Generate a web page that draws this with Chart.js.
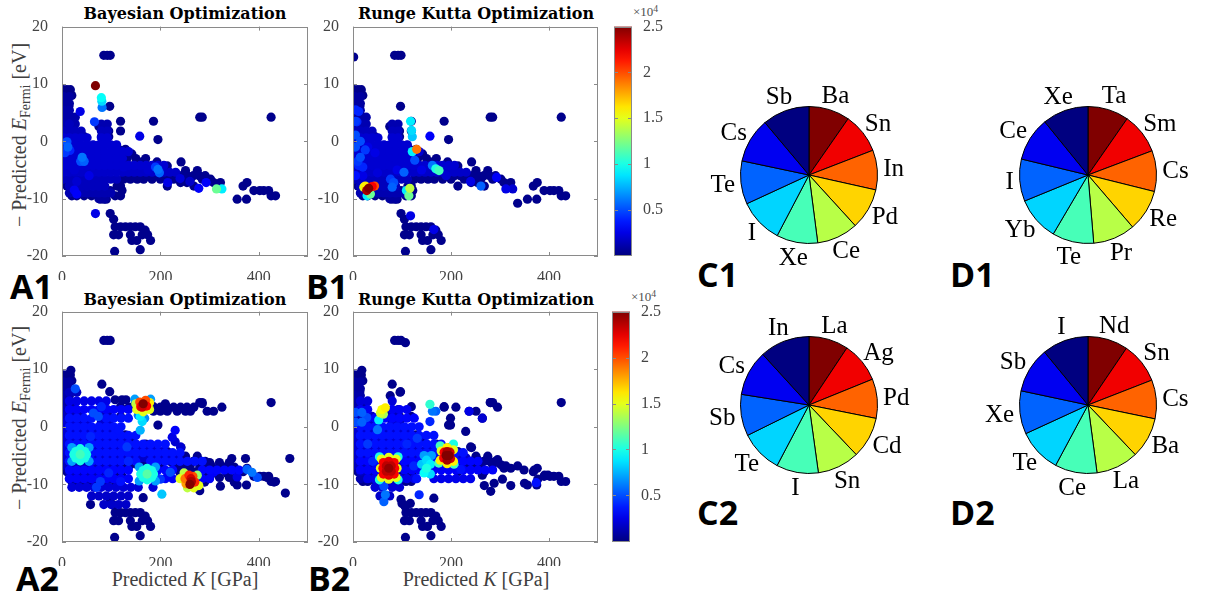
<!DOCTYPE html>
<html>
<head>
<meta charset="utf-8">
<script src="https://cdn.jsdelivr.net/npm/chart.js@4.4.1/dist/chart.umd.min.js"></script>
<style>
  body { margin: 0; background: #fff; width: 1206px; height: 595px; position: relative; overflow: hidden; }
  canvas { position: absolute; }
  .t { position: absolute; white-space: nowrap; line-height: 1; }
  .title { font: bold 16px "DejaVu Serif"; color: #000; transform: translateX(-50%); }
  .xl { font: 20px "Liberation Serif"; color: #404040; transform: translateX(-50%); }
  .yl { font: 20px "Liberation Serif"; color: #404040; transform: translate(-50%, -50%) rotate(-90deg); }
  .tag { font: bold 34px "Open Sans"; color: #000; }
  .exp { font: 13px "Liberation Serif"; color: #505050; }
  sub { font-size: 70%; vertical-align: -0.3em; line-height: 0; }
  sup { font-size: 75%; vertical-align: 0.45em; line-height: 0; }
</style>
</head>
<body>
<div class="t title" style="left:185px;top:4px">Bayesian Optimization</div>
<div class="t title" style="left:476px;top:4px">Runge Kutta Optimization</div>
<div class="t title" style="left:185px;top:290px">Bayesian Optimization</div>
<div class="t title" style="left:476px;top:290px">Runge Kutta Optimization</div>
<div class="t yl" style="left:19px;top:135px">− Predicted <i>E</i><sub>Fermi</sub> [eV]</div>
<div class="t yl" style="left:19px;top:418px">− Predicted <i>E</i><sub>Fermi</sub> [eV]</div>
<div class="t xl" style="left:185px;top:568px">Predicted <i>K</i> [GPa]</div>
<div class="t xl" style="left:476px;top:568px">Predicted <i>K</i> [GPa]</div>
<div class="t exp" style="left:633px;top:4px">×10<sup>4</sup></div>
<div class="t exp" style="left:631px;top:289px">×10<sup>4</sup></div>
<div class="t tag" style="left:10px;top:263px">A1</div>
<div class="t tag" style="left:306px;top:263px">B1</div>
<div class="t tag" style="left:16px;top:555px">A2</div>
<div class="t tag" style="left:308px;top:555px">B2</div>
<div class="t tag" style="left:697px;top:251px">C1</div>
<div class="t tag" style="left:950px;top:251px">D1</div>
<div class="t tag" style="left:697px;top:489px">C2</div>
<div class="t tag" style="left:950px;top:489px">D2</div>

<script>
// ---- data ----
const kMin = 0, kMax = 500, kStep = 200;
const eMin = -20, eMax = 20, eStep = 10;
const colorMax = 25000, colorStep = 5000;
const skeletonValue = 300;

// navy points shared by all panels: [E, [K, ...]]
const skeleton1 = [
  [15.0, [85, 92, 98]],
  [9.0, [2, 10, 17]],
  [8.0, [1, 20]],
  [7.0, [1, 7]],
  [6.1, [1, 14, 97]],
  [5.2, [1, 10]],
  [4.2, [20, 280, 285, 425]],
  [3.5, [3, 119, 186]],
  [2.6, [1, 17, 75, 85]],
  [1.8, [2, 15, 95, 119]],
  [0.8, [2, 15, 30, 45, 80, 95]],
  [0.3, [195]],
  [-0.7, [5, 20, 35, 50, 65, 82, 100, 110]],
  [-1.4, [115, 129]],
  [-2.2, [3, 18, 35, 50, 65, 80, 95, 110, 125, 142]],
  [-3.0, [132, 150, 170]],
  [-3.6, [3, 18, 35, 50, 65, 80, 95, 119, 163, 193, 242]],
  [-4.3, [108, 142, 180, 214]],
  [-5.1, [2, 15, 30, 45, 60, 75, 90, 125, 203, 251, 275]],
  [-5.8, [132, 160, 220]],
  [-6.6, [2, 15, 25, 40, 55, 70, 85, 125, 139, 153, 166, 183, 200, 227, 237, 261, 285, 302]],
  [-7.2, [241, 254, 308, 322, 376]],
  [-7.8, [10, 20, 35, 50, 65, 80, 112, 119, 214, 268, 368]],
  [-8.6, [98, 122, 390, 402, 410, 420]],
  [-9.5, [20, 30, 45, 60, 80, 108, 119, 425, 434]],
  [-10.1, [78, 85, 90, 356, 375]],
  [-12.6, [98]],
  [-13.6, [105]],
  [-14.9, [108, 119, 129, 139, 149, 159]],
  [-15.5, [169]],
  [-16.3, [105, 115, 139, 163, 174]],
  [-17.3, [142, 152, 180]],
  [-18.9, [159]],
  [-19.2, [107]]
];

// dense mass of the first row: [E, value, [K, ...]]
const body1 = [
  [7.8, 800, [3, 15]],
  [6.6, 800, [3, 15]],
  [5.4, 1000, [3, 15]],
  [4.2, 1000, [3, 15, 27]],
  [3.0, 1200, [3, 15, 27, 80, 92]],
  [1.8, 1500, [3, 15, 27, 39, 80, 92]],
  [0.6, 2000, [3, 15, 27, 39, 51, 80, 92]],
  [-0.6, 2000, [3, 15, 27, 39, 51, 63, 75, 87, 99, 111]],
  [-1.8, 2000, [3, 15, 27, 39, 51, 63, 75, 87, 99, 111, 123, 135]],
  [-3.0, 2000, [3, 15, 27, 39, 51, 63, 75, 87, 99, 111, 123]],
  [-4.2, 2000, [3, 15, 27, 39, 51, 63, 75, 87, 99, 111, 123, 135, 147, 159, 171, 183, 195, 207]],
  [-5.4, 1800, [3, 15, 27, 39, 51, 63, 75, 87, 99, 111, 123, 135, 147, 159, 171, 183, 195, 207, 219, 231]],
  [-6.0, 400, [135, 147, 159, 171, 183, 195, 207, 219, 231, 243, 255, 267, 279, 291]],
  [-6.6, 1500, [3, 15, 27, 39, 51, 63, 75, 87, 99, 111]],
  [-7.8, 1500, [15, 27, 39, 51, 63, 75, 87]],
  [-9.0, 1200, [15, 27, 39, 51, 63, 75, 87, 99]],
  [-10.0, 800, [75, 87]]
];

// coloured points: [K, E, value]
const hotA1 = [
  [37, 5.2, 2500], [66, 3.4, 4500], [81.5, 5.9, 6000], [81, 7.0, 8500], [80, 7.6, 9500], [68, 9.7, 25000],
  [158, 0.9, 2500], [10, -0.1, 5000], [12, -1.0, 5500], [6, -2, 4500], [16, -1.6, 4000],
  [38, -3.5, 5000], [45, -3.5, 5500], [41, -2.8, 6000], [25, -8.5, 2800], [30, -9.2, 3000],
  [190, -4.5, 4500], [198, -5.5, 5500], [195, -4.9, 6000], [278, -8.2, 3000], [293, -7.2, 3000],
  [325, -8.3, 9000], [314, -8.3, 12000], [68, -12.6, 2500], [125, -4.5, 2000], [215, -7.2, 2500],
  [25, -5, 2000], [55, -6, 2500], [60, -4, 2000], [70, -1, 1500], [15, 3, 1500], [30, -7, 2000],
  [110, -5, 1800], [175, -5, 2000], [260, -7, 1800], [240, -6.5, 2200]
];

const hotB1 = [
  [1.4, 14.7, 300], [336, -10.8, 300],
  [117.5, 3.5, 9000], [119.5, 1.9, 8500], [121, 0.8, 8000], [121, -1.8, 9000], [130, -1.4, 19000],
  [126, -3.3, 5000], [157, 0.9, 3000], [162, -4.2, 6000], [169, -4.8, 10000], [175.5, -5.1, 11000],
  [109, -8.6, 9000], [116, -8.2, 14000], [114, -9.5, 12000],
  [22, -8, 15000], [25, -7.8, 16000], [35.5, -9.2, 12000], [28.7, -9.5, 9000], [39, -7.9, 22000],
  [44, -7.8, 20000], [28, -8.6, 24000], [32, -8.2, 25000],
  [5, 1.1, 5000], [11.6, 5.2, 4000], [8, 3.4, 4000], [15, -2.8, 5000], [11.6, -4.2, 4000],
  [5, 5.5, 4000], [5, 3.5, 4500], [15, 0, 5000], [5, -1, 5000], [25, -1.5, 4500], [10, -3.5, 4500],
  [20, -4.5, 4000], [5, -6, 3500],
  [83, -7.2, 5000], [80, -8, 5500], [76.5, -6.6, 4500], [104, -5.4, 5500], [261, -7.8, 5500],
  [293, -6.3, 3000], [312, -8.3, 2500], [326, -8.3, 2000], [117.5, -13.0, 2500], [165, -15.4, 2500],
  [30, -1, 2500], [45, -2, 2500], [60, -3, 2000], [20, -6, 2500], [50, -5.5, 2200],
  [90, -5, 2500], [140, -5, 2500], [190, -6, 2000], [240, -7, 2500]
];

// extra navy points of the second row: [E, [K, ...]]
const extraA2 = [
  [9.8, [18]], [8.2, [7]], [7.4, [3, 81]],
  [4.7, [108, 122, 130]],
  [4.0, [149, 176, 210, 285]],
  [3.4, [136, 200, 214, 227, 241, 254, 268, 325]],
  [2.7, [186, 200, 214, 234, 251, 261, 295, 308]],
  [-5.5, [345, 373, 463]],
  [-6.2, [300, 320, 340]],
  [-7.0, [280, 300, 330, 350]],
  [-8.0, [240, 290, 310, 335, 355]],
  [-8.8, [300, 320, 340, 417]],
  [-9.6, [290, 350, 431]],
  [-10.3, [268, 322]],
  [-11.1, [280]],
  [-11.5, [454]],
  [-12.3, [98, 165]],
  [-13.5, [58]]
];

const extraB2 = [
  [14.6, [107]], [9.8, [18]], [8.9, [8]], [8.0, [1]], [7.4, [80]], [6.0, [96]], [5.4, [76]],
  [4.2, [281]], [3.4, [186, 210, 295]], [2.7, [237, 251]], [1.5, [199, 264]], [0.3, [199]],
  [-0.8, [230]], [-3.5, [240]],
  [-5.7, [230, 254, 275, 295]], [-6.8, [312, 336]], [-7.5, [349, 370]], [-8.4, [264, 391, 398]],
  [-9.1, [305, 377]], [-9.8, [288, 350]], [-10.2, [268, 322]], [-11.2, [281]],
  [-12.4, [165]], [-13.3, [100, 117]], [-13.9, [107]]
];

// dense blue body of the second row: [E, value, [K, ...]]
const bodyA2 = [
  [6.0, 1500, [15, 30]],
  [4.5, 2500, [15, 30, 45, 60, 75, 90]],
  [3.0, 3000, [15, 30, 45, 60, 75, 90, 105, 120, 135]],
  [1.5, 3500, [15, 30, 45, 60, 90, 105, 120, 135]],
  [0.0, 3500, [15, 30, 45, 60, 75, 90, 105, 120]],
  [-1.5, 3500, [15, 30, 45, 60, 75, 90, 105, 120, 135, 150]],
  [-3.0, 3500, [15, 30, 45, 60, 75, 90, 105, 120, 135, 150, 165, 180, 195, 210]],
  [-4.5, 3500, [15, 60, 75, 90, 105, 120, 135, 150, 165, 180, 195, 210, 225, 240]],
  [-6.0, 3500, [15, 60, 75, 90, 105, 120, 135, 150, 180, 195, 210, 225, 240, 255, 270, 285]],
  [-7.5, 3200, [15, 30, 45, 60, 75, 90, 105, 120, 135, 195, 210, 225, 285, 300, 315, 330, 345, 360]],
  [-9.0, 3000, [15, 30, 45, 60, 75, 90, 105, 120, 135, 195, 210, 225, 285, 300]],
  [-10.5, 2200, [20, 35, 50, 65, 80, 95, 110, 125, 140, 155, 185]],
  [-12.0, 1800, [60, 75, 90, 105, 120, 135]],
  [-13.5, 1800, [85, 100, 115, 130]]
];

const bodyB2 = [
  [4.5, 2200, [15, 30, 80]],
  [3.0, 2800, [15, 30, 80, 95, 110]],
  [1.5, 3200, [30, 45, 65, 80, 95, 110, 125]],
  [0.0, 3500, [15, 30, 45, 60, 75, 90, 105, 120, 135]],
  [-1.5, 3500, [15, 30, 45, 60, 75, 90, 105, 120, 135, 150, 165]],
  [-3.0, 3500, [15, 30, 45, 60, 75, 90, 105, 120, 135, 150, 165, 180]],
  [-4.5, 3500, [15, 30, 45, 60, 75, 90, 105, 120, 135, 150, 165, 210, 225]],
  [-6.0, 3200, [15, 30, 45, 105, 120, 135, 165, 210, 225, 240, 255]],
  [-7.5, 3000, [15, 30, 45, 105, 120, 135, 165, 180, 195, 210, 225, 240, 255, 270, 285]],
  [-9.0, 2600, [30, 45, 95, 110, 125, 165, 180, 195, 210, 225, 240]],
  [-10.5, 2200, [45, 60, 80, 95]],
  [-12.0, 1800, [55, 75]]
];

const hotA2 = [
  // upper hot spot
  [148, 4.8, 7000], [180, 4.8, 7000], [152, 3.0, 15000], [165, 2.6, 15000], [178, 3.0, 15000],
  [178, 4.2, 16000], [150, 4.0, 14000], [158, 4.3, 20000], [170, 4.6, 20000], [160, 3.5, 22000],
  [172, 3.6, 22000], [163, 3.4, 23000], [165, 4.0, 25000],
  [159, 1.8, 9000], [163, 0.9, 8500], [159, -0.6, 7500], [155, 2.0, 6000], [168, 1.5, 6500],
  // lower hot spot
  [240, -9.0, 15000], [248, -8.0, 14000], [275, -8.4, 13000], [278, -10.2, 15000], [255, -10.6, 14000],
  [268, -10.6, 15000], [250, -9.0, 19000], [258, -8.4, 21000], [266, -8.6, 20000], [252, -9.9, 18000],
  [270, -9.6, 21000], [262, -9.0, 23000], [263, -9.5, 24000], [260, -10, 25000],
  // green squares
  [20, -3.6, 7000], [55, -3.6, 7000], [20, -6.0, 7000], [55, -6.0, 7000],
  [28, -4.3, 10000], [46, -4.3, 10000], [28, -5.4, 10000], [46, -5.4, 10000],
  [37, -3.8, 10000], [37, -5.9, 10000], [24, -4.8, 10000], [50, -4.8, 10000], [37, -4.8, 11000],
  [157, -7, 7000], [190, -7, 7000], [157, -9.4, 7000], [190, -9.4, 7000],
  [165, -7.6, 10000], [182, -7.6, 10000], [165, -8.8, 10000], [182, -8.8, 10000],
  [173, -7.2, 10000], [173, -9.2, 10000], [160, -8.2, 10000], [186, -8.2, 10000], [173, -8.2, 11500],
  // light blue spots
  [27, 6.6, 5000], [64, 2.4, 5000], [74, 1.8, 5000], [58, -1.7, 4000], [78, -9.5, 4500],
  [132, -3.5, 4500], [119, -9.5, 3500], [220, -7.9, 5000], [200, -9.1, 4500], [308, -7.9, 3000],
  [356, -8.7, 2500], [203, -11.7, 8000], [376, -7.4, 5500], [386, -7.9, 6000], [397, -8.8, 5000],
  [230, -0.6, 3000], [224, -1.8, 2500], [241, -3.5, 2000], [230, -2.6, 2000],
  [80, 3.5, 4000], [70, -10.5, 4500], [95, -8, 4000], [135, -6, 4000], [115, -0.5, 3500]
];

const hotB2 = [
  // yellow spot
  [59, 3.0, 15500], [66, 3.3, 16000], [56, 2.4, 14500], [62, 2.2, 13500],
  [52.5, 1.2, 9000], [50, -0.5, 6000],
  // light blue corner
  [5, 2.5, 5000], [18, 2.5, 5500], [5, 0.8, 5000], [18, 0.8, 5500], [28, 1.6, 5000],
  [157, 3.9, 10500], [162, 2.7, 6000], [169, 2.7, 5500], [157, 0.9, 4000],
  // right hot spot
  [178, -3.3, 11000], [205, -3.0, 10000], [175, -6.3, 11000], [206, -6.5, 11000],
  [180, -4.2, 15000], [205, -4.0, 15000], [178, -5.8, 16000], [205, -6.0, 16000], [192, -3.6, 16000],
  [192, -6.4, 16000], [186, -4.4, 22000], [198, -4.4, 23000], [185, -5.4, 22000], [199, -5.5, 23000],
  [192, -4.3, 24000], [192, -5.8, 24000], [190, -5, 25000], [196, -5, 25000],
  // left hot spot
  [54, -5.2, 10000], [92, -5.2, 10000], [54, -9.2, 10000], [92, -9.2, 10000],
  [58, -5.6, 15000], [73, -5.3, 15000], [88, -5.6, 15000], [56, -7.2, 15000], [90, -7.2, 15000],
  [58, -8.8, 15000], [73, -9.1, 15000], [88, -8.8, 15000],
  [62, -6.2, 22000], [73, -6.0, 22500], [84, -6.2, 22000], [61, -7.2, 22000], [85, -7.2, 22000],
  [62, -8.2, 22000], [73, -8.4, 22500], [84, -8.2, 22000], [68, -6.8, 23500], [78, -6.8, 23500],
  [68, -7.7, 23500], [78, -7.7, 23500], [73, -7.2, 24500],
  // cyan patch
  [145, -5, 7000], [160, -5, 7000], [140, -6.5, 8000], [158, -6.5, 9000], [145, -8, 9500],
  [158, -8.2, 8500], [150, -7.2, 10000], [150, -5.8, 8500],
  // light blue spots
  [63, -10.3, 5000], [66, -11.8, 6000], [63, -13, 5500], [131, -2, 4500], [124, -6.8, 4000],
  [220, -7.4, 3500], [135, -11.8, 4000], [374, -9.7, 3500], [30, -3, 4500], [40, -6, 4000],
  [110, -3, 4000], [130, -9, 3500], [237, 2.7, 2500], [264, 1.5, 2000]
];

// pie charts (slice sizes in degrees, clockwise from 12 o'clock)
const pieC1Labels = ['Ba', 'Sn', 'In', 'Pd', 'Ce', 'Xe', 'I', 'Te', 'Cs', 'Sb'];
const pieC1Values = [34.8, 34.0, 33.7, 35.0, 35.0, 35.0, 37.5, 36.7, 38.0, 40.0];
const pieD1Labels = ['Ta', 'Sm', 'Cs', 'Re', 'Pr', 'Te', 'Yb', 'I', 'Ce', 'Xe'];
const pieD1Values = [34.8, 34.5, 34.7, 35.4, 35.8, 35.3, 37.2, 35.8, 37.4, 39.1];
const pieC2Labels = ['La', 'Ag', 'Pd', 'Cd', 'Sn', 'I', 'Te', 'Sb', 'Cs', 'In'];
const pieC2Values = [33.6, 34.3, 33.4, 35.1, 35.7, 35.7, 35.9, 35.3, 38.6, 42.4];
const pieD2Labels = ['Nd', 'Sn', 'Cs', 'Ba', 'La', 'Ce', 'Te', 'Xe', 'Sb', 'I'];
const pieD2Values = [34.1, 34.6, 33.0, 34.7, 36.0, 35.8, 37.1, 36.7, 38.6, 39.4];

// ---- helpers ----
function jet(t) {
  t = Math.min(1, Math.max(0, t));
  const f = x => Math.round(255 * Math.min(1, Math.max(0, x)));
  return `rgb(${f(1.5 - Math.abs(4 * t - 3))},${f(1.5 - Math.abs(4 * t - 2))},${f(1.5 - Math.abs(4 * t - 1))})`;
}
const fromStrips = (strips, v) => strips.flatMap(([e, ks]) => ks.map(k => ({ x: k, y: e, v })));
const fromValued = strips => strips.flatMap(([e, v, ks]) => ks.map(k => ({ x: k, y: e, v })));
const fromTriples = list => list.map(([k, e, v]) => ({ x: k, y: e, v }));

const tickFont = { family: 'Liberation Serif', size: 16 };
const tickColor = '#444';

// MATLAB-like box with inward ticks
const boxPlugin = {
  id: 'box',
  afterDraw(chart) {
    const { ctx, chartArea: a, scales } = chart;
    ctx.save();
    ctx.strokeStyle = '#8a8a8a';
    ctx.lineWidth = 1;
    ctx.strokeRect(Math.round(a.left) + 0.5, Math.round(a.top) + 0.5, Math.round(a.width) - 1, Math.round(a.height) - 1);
    const len = 4;
    if (scales.x && scales.x.type === 'linear') {
      scales.x.ticks.forEach(t => {
        const px = Math.round(scales.x.getPixelForValue(t.value)) + 0.5;
        ctx.beginPath();
        ctx.moveTo(px, a.bottom); ctx.lineTo(px, a.bottom - len);
        ctx.moveTo(px, a.top); ctx.lineTo(px, a.top + len);
        ctx.stroke();
      });
    }
    if (scales.y) {
      scales.y.ticks.forEach(t => {
        const py = Math.round(scales.y.getPixelForValue(t.value)) + 0.5;
        ctx.beginPath();
        ctx.moveTo(a.left, py); ctx.lineTo(a.left + len, py);
        ctx.moveTo(a.right, py); ctx.lineTo(a.right - len, py);
        ctx.stroke();
      });
    }
    ctx.restore();
  }
};

function addCanvas(width, height) {
  const c = document.createElement('canvas');
  c.width = width; c.height = height;
  c.style.width = width + 'px'; c.style.height = height + 'px';
  document.body.appendChild(c);
  return c;
}

// resize the canvas so the plot area is exactly W x H, then place it at (L, T)
function fitArea(chart, c, [L, T, W, H]) {
  for (let k = 0; k < 3; k++) {
    const a = chart.chartArea;
    const nw = Math.round(chart.width + W - (a.right - a.left));
    const nh = Math.round(chart.height + H - (a.bottom - a.top));
    if (nw === chart.width && nh === chart.height) break;
    chart.resize(nw, nh);
  }
  const a = chart.chartArea;
  c.style.left = (L - a.left) + 'px';
  c.style.top = (T - a.top) + 'px';
}

function scatterPanel(area, points) {
  const [, , W, H] = area;
  const c = addCanvas(W + 60, H + 44);
  points.sort((p, q) => p.v - q.v);
  const chart = new Chart(c, {
    type: 'scatter',
    data: {
      datasets: [{
        data: points,
        pointRadius: 4.6,
        pointHoverRadius: 4.6,
        pointBorderWidth: 0,
        pointBackgroundColor: ctx => jet(ctx.raw.v / colorMax)
      }]
    },
    options: {
      responsive: false, maintainAspectRatio: false, animation: false, events: [],
      layout: { padding: { top: 12, right: 12, left: 0, bottom: 0 } },
      plugins: { legend: { display: false }, tooltip: { enabled: false } },
      scales: {
        x: {
          type: 'linear', min: kMin, max: kMax,
          grid: { display: false }, border: { display: false },
          ticks: { stepSize: kStep, includeBounds: false, padding: 4, maxRotation: 0, font: tickFont, color: tickColor, callback: v => String(v) },
          afterFit: s => { s.height = 24; }
        },
        y: {
          type: 'linear', min: eMin, max: eMax,
          grid: { display: false }, border: { display: false },
          ticks: { stepSize: eStep, padding: 6, font: tickFont, color: tickColor, callback: v => String(v) },
          afterFit: s => { s.width = 42; }
        }
      }
    },
    plugins: [boxPlugin]
  });
  fitArea(chart, c, area);
}

function colorbar(area) {
  const [, , W, H] = area;
  const c = addCanvas(W + 40, H + 24);
  const chart = new Chart(c, {
    type: 'bar',
    data: {
      labels: [''],
      datasets: [{
        data: [[0, colorMax]],
        barPercentage: 1, categoryPercentage: 1, borderWidth: 0,
        backgroundColor: ctx => {
          const a = ctx.chart.chartArea;
          if (!a) return '#00f';
          const g = ctx.chart.ctx.createLinearGradient(0, a.bottom, 0, a.top);
          for (let i = 0; i <= 20; i++) g.addColorStop(i / 20, jet(i / 20));
          return g;
        }
      }]
    },
    options: {
      responsive: false, maintainAspectRatio: false, animation: false, events: [],
      layout: { padding: { top: 12, bottom: 12, left: 0, right: 0 } },
      plugins: { legend: { display: false }, tooltip: { enabled: false } },
      scales: {
        x: { display: false },
        y: {
          position: 'right', min: 0, max: colorMax,
          grid: { display: false }, border: { display: false },
          ticks: { stepSize: colorStep, padding: 3, font: tickFont, color: tickColor, callback: v => v ? String(v / 10000) : '' },
          afterFit: s => { s.width = 40; }
        }
      }
    },
    plugins: [boxPlugin]
  });
  fitArea(chart, c, area);
}

const pieLabelPlugin = {
  id: 'pieLabels',
  afterDatasetsDraw(chart) {
    const { ctx } = chart;
    const labels = chart.data.labels;
    ctx.save();
    ctx.font = '25px "Liberation Serif"';
    ctx.fillStyle = '#000';
    ctx.textAlign = 'center';
    ctx.textBaseline = 'middle';
    chart.getDatasetMeta(0).data.forEach((arc, i) => {
      const { x, y, startAngle, endAngle, outerRadius } = arc.getProps(['x', 'y', 'startAngle', 'endAngle', 'outerRadius'], true);
      const mid = (startAngle + endAngle) / 2;
      const dx = Math.cos(mid), dy = Math.sin(mid);
      const w = ctx.measureText(labels[i]).width, h = 18;
      const r = outerRadius + 6;
      ctx.fillText(labels[i], x + dx * r + dx * w / 2, y + dy * r + dy * h / 2 + 1);
    });
    ctx.restore();
  }
};

function pie(cx, cy, labels, values) {
  const c = addCanvas(240, 240);
  c.style.left = (cx - 120) + 'px';
  c.style.top = (cy - 120) + 'px';
  new Chart(c, {
    type: 'pie',
    data: {
      labels,
      datasets: [{
        data: values,
        backgroundColor: values.map((_, i) => jet(1 - i / (values.length - 1))),
        borderColor: '#000',
        borderWidth: 1
      }]
    },
    options: {
      responsive: false, animation: false, events: [],
      layout: { padding: 51 },
      plugins: { legend: { display: false }, tooltip: { enabled: false } }
    },
    plugins: [pieLabelPlugin]
  });
}

// ---- build ----
const row1 = [...fromStrips(skeleton1, skeletonValue), ...fromValued(body1)];
scatterPanel([62, 27, 246, 229], [...row1, ...fromTriples(hotA1)]);
scatterPanel([353, 27, 245, 229], [...row1, ...fromTriples(hotB1)]);
scatterPanel([62, 312, 246, 230], [...row1, ...fromStrips(extraA2, skeletonValue), ...fromValued(bodyA2), ...fromTriples(hotA2)]);
scatterPanel([353, 312, 245, 230], [...row1, ...fromStrips(extraB2, skeletonValue), ...fromValued(bodyB2), ...fromTriples(hotB2)]);
colorbar([614, 27, 18, 229]);
colorbar([612, 312, 18, 230]);
pie(809, 175, pieC1Labels, pieC1Values);
pie(1088, 175, pieD1Labels, pieD1Values);
pie(809, 405, pieC2Labels, pieC2Values);
pie(1088, 405, pieD2Labels, pieD2Values);
</script>
</body>
</html>
